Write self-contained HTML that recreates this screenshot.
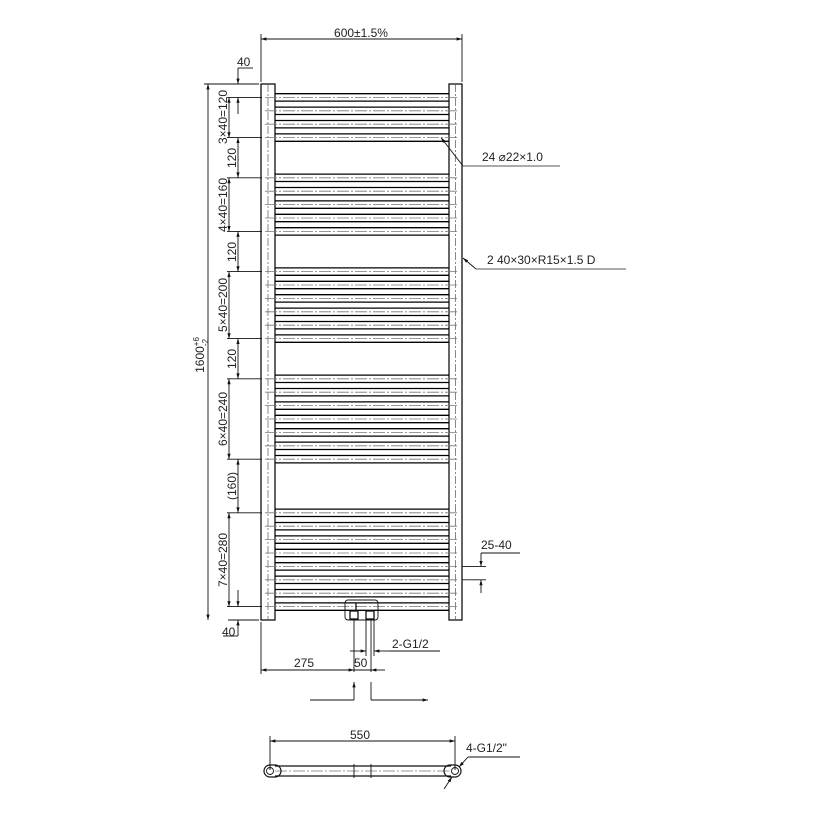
<!DOCTYPE html>
<html><head><meta charset="utf-8"><style>
html,body{margin:0;padding:0;background:#fff;}
svg{display:block;}
text{font-family:"Liberation Sans",sans-serif;font-size:12px;fill:#222;}
</style></head><body>
<svg width="820" height="820" viewBox="0 0 820 820" xmlns="http://www.w3.org/2000/svg">
<defs>
<marker id="a" viewBox="0 0 10 10" refX="10" refY="5" markerWidth="10" markerHeight="6" orient="auto-start-reverse"><path d="M0,2 L10,5 L0,8z" fill="#111"/></marker>
<g id="b">
<line x1="275" y1="-3.7" x2="449" y2="-3.7" stroke="#000" stroke-width="1.3"/>
<line x1="275" y1="3.7" x2="449" y2="3.7" stroke="#000" stroke-width="1.3"/>
<line x1="265" y1="0" x2="458" y2="0" stroke="#777" stroke-width="0.8" stroke-dasharray="12,2,2,2"/>
</g>
</defs>
<g fill="none" stroke="#111" stroke-width="1">
<rect x="261" y="84" width="14" height="536" stroke-width="1.3"/>
<rect x="449" y="84" width="13" height="536" stroke-width="1.3"/>
<line x1="268" y1="84" x2="268" y2="620" stroke="#555" stroke-width="0.7" stroke-dasharray="8,2,2,2"/>
<line x1="455.5" y1="84" x2="455.5" y2="620" stroke="#555" stroke-width="0.7" stroke-dasharray="8,2,2,2"/>
</g>
<g>
<use href="#b" y="97.4"/><use href="#b" y="110.8"/><use href="#b" y="124.2"/><use href="#b" y="137.6"/>
<use href="#b" y="177.8"/><use href="#b" y="191.2"/><use href="#b" y="204.6"/><use href="#b" y="218"/><use href="#b" y="231.4"/>
<use href="#b" y="271.6"/><use href="#b" y="285"/><use href="#b" y="298.4"/><use href="#b" y="311.8"/><use href="#b" y="325.2"/><use href="#b" y="338.6"/>
<use href="#b" y="378.8"/><use href="#b" y="392.2"/><use href="#b" y="405.6"/><use href="#b" y="419"/><use href="#b" y="432.4"/><use href="#b" y="445.8"/><use href="#b" y="459.2"/>
<use href="#b" y="512.8"/><use href="#b" y="526.2"/><use href="#b" y="539.6"/><use href="#b" y="553"/><use href="#b" y="566.4"/><use href="#b" y="579.8"/><use href="#b" y="593.2"/><use href="#b" y="606.6"/>
</g>
<g fill="none" stroke="#111" stroke-width="0.9">
<line x1="261" y1="34" x2="261" y2="82"/><line x1="462" y1="34" x2="462" y2="82"/>
<line x1="261" y1="39" x2="462" y2="39" marker-start="url(#a)" marker-end="url(#a)"/>
<line x1="204" y1="84" x2="259" y2="84"/>
<line x1="208" y1="84" x2="208" y2="620" marker-start="url(#a)" marker-end="url(#a)"/>
<line x1="228" y1="620" x2="259" y2="620"/>
<line x1="227" y1="97.4" x2="262" y2="97.4"/><line x1="227" y1="137.6" x2="262" y2="137.6"/>
<line x1="227" y1="177.8" x2="262" y2="177.8"/><line x1="227" y1="231.4" x2="262" y2="231.4"/>
<line x1="227" y1="271.6" x2="262" y2="271.6"/><line x1="227" y1="338.6" x2="262" y2="338.6"/>
<line x1="227" y1="378.8" x2="262" y2="378.8"/><line x1="227" y1="459.2" x2="262" y2="459.2"/>
<line x1="227" y1="512.8" x2="262" y2="512.8"/><line x1="227" y1="606.6" x2="262" y2="606.6"/>
<line x1="229" y1="97.4" x2="229" y2="137.6" marker-start="url(#a)" marker-end="url(#a)"/>
<line x1="229" y1="177.8" x2="229" y2="231.4" marker-start="url(#a)" marker-end="url(#a)"/>
<line x1="229" y1="271.6" x2="229" y2="338.6" marker-start="url(#a)" marker-end="url(#a)"/>
<line x1="229" y1="378.8" x2="229" y2="459.2" marker-start="url(#a)" marker-end="url(#a)"/>
<line x1="229" y1="512.8" x2="229" y2="606.6" marker-start="url(#a)" marker-end="url(#a)"/>
<line x1="238" y1="137.6" x2="238" y2="177.8" marker-start="url(#a)" marker-end="url(#a)"/>
<line x1="238" y1="231.4" x2="238" y2="271.6" marker-start="url(#a)" marker-end="url(#a)"/>
<line x1="238" y1="338.6" x2="238" y2="378.8" marker-start="url(#a)" marker-end="url(#a)"/>
<line x1="238" y1="459.2" x2="238" y2="512.8" marker-start="url(#a)" marker-end="url(#a)"/>
<line x1="238" y1="68" x2="238" y2="84" marker-end="url(#a)"/>
<line x1="238" y1="114" x2="238" y2="97.4" marker-end="url(#a)"/>
<line x1="238" y1="68" x2="253" y2="68"/>
<line x1="238" y1="590" x2="238" y2="606.6" marker-end="url(#a)"/>
<line x1="238" y1="636" x2="238" y2="620" marker-end="url(#a)"/>
<line x1="223" y1="636" x2="238" y2="636"/>
<line x1="463" y1="166" x2="441" y2="137.6" marker-end="url(#a)"/>
<line x1="463" y1="166" x2="560" y2="166" stroke="#555"/>
<line x1="476" y1="269" x2="463" y2="258" marker-end="url(#a)"/>
<line x1="476" y1="269" x2="626" y2="269" stroke="#555"/>
<line x1="462" y1="566.4" x2="486" y2="566.4"/><line x1="462" y1="579.8" x2="486" y2="579.8"/>
<line x1="481" y1="553" x2="481" y2="566.4" marker-end="url(#a)"/>
<line x1="481" y1="593" x2="481" y2="579.8" marker-end="url(#a)"/>
<line x1="481" y1="553" x2="520" y2="553"/>
<rect x="345" y="600" width="33" height="20" rx="3"/>
<rect x="350" y="611" width="8" height="8" stroke-width="1.3"/>
<rect x="366" y="611" width="8" height="8" stroke-width="1.3"/>
<line x1="356" y1="603" x2="356" y2="611" stroke-width="1.3"/>
<line x1="354" y1="619" x2="354" y2="672"/><line x1="371" y1="619" x2="371" y2="672"/>
<line x1="366" y1="619" x2="366" y2="656"/><line x1="374" y1="619" x2="374" y2="656"/>
<line x1="350" y1="651" x2="366" y2="651" marker-end="url(#a)"/>
<line x1="390" y1="651" x2="374" y2="651" marker-end="url(#a)"/>
<line x1="390" y1="651" x2="440" y2="651"/>
<line x1="261" y1="622" x2="261" y2="674"/>
<line x1="261" y1="670" x2="354" y2="670" marker-start="url(#a)" marker-end="url(#a)"/>
<line x1="354" y1="670" x2="371" y2="670"/>
<line x1="385" y1="670" x2="371" y2="670" marker-end="url(#a)"/>
<line x1="310" y1="700" x2="354" y2="700"/>
<line x1="354" y1="700" x2="354" y2="682" marker-end="url(#a)"/>
<line x1="371" y1="682" x2="371" y2="700"/>
<line x1="371" y1="700" x2="428" y2="700" marker-end="url(#a)"/>
<line x1="270" y1="736" x2="270" y2="770"/><line x1="455" y1="736" x2="455" y2="770"/>
<line x1="270" y1="741" x2="455" y2="741" marker-start="url(#a)" marker-end="url(#a)"/>
<line x1="275" y1="766" x2="451" y2="766" stroke-width="1.2"/>
<line x1="275" y1="776" x2="451" y2="776" stroke-width="1.2"/>
<line x1="275" y1="771" x2="451" y2="771" stroke="#777" stroke-width="0.7" stroke-dasharray="12,2,2,2"/>
<path d="M270,765 L275,765 A6,6 0 0 1 275,777 L270,777 A6,6 0 0 1 270,765z" stroke-width="1.2"/>
<circle cx="270" cy="771" r="3.5"/>
<path d="M455,765 L450,765 A6,6 0 0 0 450,777 L455,777 A6,6 0 0 0 455,765z" stroke-width="1.2"/>
<circle cx="455" cy="771" r="3.5"/>
<line x1="354" y1="764" x2="354" y2="778"/><line x1="371" y1="764" x2="371" y2="778"/>
<line x1="468" y1="757" x2="459" y2="767" marker-end="url(#a)"/>
<line x1="444" y1="789" x2="452" y2="777" marker-end="url(#a)"/>
<line x1="468" y1="757" x2="520" y2="757"/>
</g>
<g>
<text x="361" y="37" text-anchor="middle" font-size="11">600±1.5%</text>
<text x="237" y="66" font-size="11">40</text>
<text x="222" y="636" font-size="11">40</text>
<text transform="translate(204,355) rotate(-90)" text-anchor="middle" font-size="11">1600<tspan font-size="8" dy="-5">+6</tspan><tspan font-size="8" dx="-9" dy="9">-2</tspan></text>
<text transform="translate(227,117) rotate(-90)" text-anchor="middle" font-size="12">3×40=120</text>
<text transform="translate(227,205) rotate(-90)" text-anchor="middle" font-size="12">4×40=160</text>
<text transform="translate(227,305) rotate(-90)" text-anchor="middle" font-size="12">5×40=200</text>
<text transform="translate(227,419) rotate(-90)" text-anchor="middle" font-size="12">6×40=240</text>
<text transform="translate(227,560) rotate(-90)" text-anchor="middle" font-size="12">7×40=280</text>
<text transform="translate(236,158) rotate(-90)" text-anchor="middle" font-size="12">120</text>
<text transform="translate(236,252) rotate(-90)" text-anchor="middle" font-size="12">120</text>
<text transform="translate(236,359) rotate(-90)" text-anchor="middle" font-size="12">120</text>
<text transform="translate(236,486) rotate(-90)" text-anchor="middle" font-size="12">(160)</text>
<text x="482" y="161" font-size="12">24 ⌀22×1.0</text>
<text x="487" y="264" font-size="12">2  40×30×R15×1.5  D</text>
<text x="481" y="549" font-size="12">25-40</text>
<text x="392" y="648" font-size="12">2-G1/2</text>
<text x="294" y="667" font-size="12">275</text>
<text x="354" y="667" font-size="12">50</text>
<text x="350" y="739" font-size="12">550</text>
<text x="466" y="752" font-size="12">4-G1/2"</text>
</g>
</svg>
</body></html>
